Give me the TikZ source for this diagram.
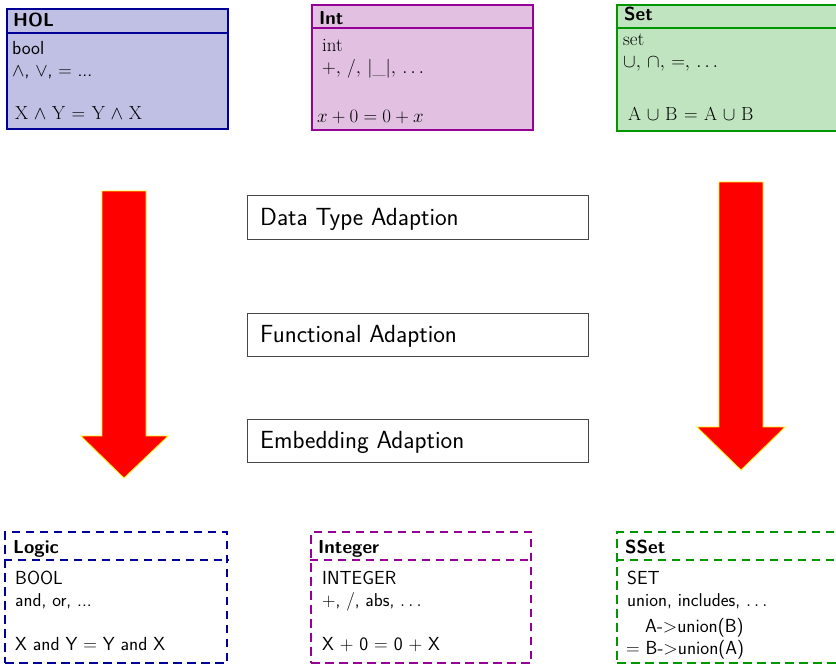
\RequirePackage{fix-cm}
\documentclass[tikz,border=0pt]{standalone}
\usepackage{fontspec}
\usetikzlibrary{positioning}

\definecolor{holc}{RGB}{0,0,150}
\definecolor{holfill}{RGB}{192,192,228}
\definecolor{intc}{RGB}{150,0,150}
\definecolor{intfill}{RGB}{226,192,226}
\definecolor{setc}{RGB}{0,150,0}
\definecolor{setfill}{RGB}{192,228,192}
\definecolor{framegray}{RGB}{70,70,70}

\newcommand{\titlefont}{\fontsize{18.8}{22}\selectfont\sffamily\bfseries}
\newcommand{\bigfont}{\fontsize{18.9}{22}\selectfont}
\newcommand{\smallfont}{\fontsize{18.6}{22}\selectfont}
\newcommand{\stepfont}{\fontsize{24.8}{29}\selectfont\sffamily}
% binary operator with slightly wider spacing
\newcommand{\wop}[1]{\mskip1.3mu#1\mskip1.3mu}

\tikzset{
  solidbox/.style={draw, line width=1.7pt, rectangle, inner sep=0pt},
  dashbox/.style={draw, line width=2.6pt, rectangle, inner sep=0pt, fill=white,
                  dash pattern=on 8.5pt off 5.5pt},
  sepdash/.style={line width=2.6pt, dash pattern=on 8.5pt off 5.5pt},
  stepbox/.style={draw=framegray, line width=0.8pt, rectangle, inner sep=0pt,
                  minimum width=341pt},
  txt/.style={anchor=base west, inner sep=0pt, text=black},
  bigarrow/.style={fill=red, draw=yellow, line width=0.8pt, line join=miter},
}

\begin{document}
\begin{tikzpicture}[x=1pt, y=-1pt]
\useasboundingbox (0,0) rectangle (836,665);

% ---------- source theories ----------
\node[solidbox, draw=holc, fill=holfill, minimum width=221pt, minimum height=120pt] (hol) at (117.5,69) {};
\draw[holc, line width=1.7pt] (hol.west |- 0,33) -- (hol.east |- 0,33);
\node[txt, font=\titlefont] (holt) at (13,26) {HOL};
\node[txt, font=\bigfont\sffamily] (hol1) at (12,54) {bool};
\node[txt, font=\smallfont\sffamily] (hol2) at (12,76) {$\wedge$, $\vee$, $=$ ...};
\node[txt, font=\bigfont] (hol3) at (15,119) {$\mathrm{X \wop\wedge Y \wop= Y \wop\wedge X}$};

\node[solidbox, draw=intc, fill=intfill, minimum width=221pt, minimum height=125pt] (int) at (422.5,67.5) {};
\draw[intc, line width=1.7pt] (int.west |- 0,28) -- (int.east |- 0,28);
\node[txt, font=\titlefont] (intt) at (319,24) {Int};
\node[txt, font=\bigfont] (int1) at (322,51) {int};
\node[txt, font=\bigfont] (int2) at (322,73) {$+,\,/,\,|\_|,\,\ldots$};
\node[txt, font=\bigfont] (int3) at (317,122) {$x+0=0+x$};

\node[solidbox, draw=setc, fill=setfill, minimum width=232pt, minimum height=126pt] (set) at (733,68) {};
\draw[setc, line width=1.7pt] (set.west |- 0,28) -- (set.east |- 0,28);
\node[txt, font=\titlefont] (sett) at (624,20) {Set};
\node[txt, font=\bigfont] (set1) at (623,45) {set};
\node[txt, font=\bigfont] (set2) at (623,67) {$\cup,\,\cap,\,=,\,\ldots$};
\node[txt, font=\bigfont] (set3) at (628,120) {$\mathrm{A \wop\cup B \wop= A \wop\cup B}$};

% ---------- adaption steps ----------
\node[stepbox, minimum height=44pt] (dta) at (417.5,217) {};
\node[txt, font=\stepfont] (dtat) at (260,225) {Data Type Adaption};
\node[stepbox, minimum height=43pt] (fa) at (417.5,334.5) {};
\node[txt, font=\stepfont] (fat) at (260,342) {Functional Adaption};
\node[stepbox, minimum height=43pt] (ea) at (417.5,440.5) {};
\node[txt, font=\stepfont] (eat) at (260,448) {Embedding Adaption};

% ---------- big arrows ----------
\draw[bigarrow] (102,191) -- (146,191) -- (146,436) -- (168,436) -- (124,478)
  -- (81,436) -- (102,436) -- cycle;
\draw[bigarrow] (719,182) -- (763,182) -- (763,427) -- (785,427) -- (741,470)
  -- (697,427) -- (719,427) -- cycle;

% ---------- target theories ----------
\node[dashbox, draw=holc, minimum width=222pt, minimum height=131pt] (logic) at (116,597.5) {};
\draw[holc, sepdash] (logic.west |- 0,560) -- (logic.east |- 0,560);
\node[txt, font=\titlefont] (logict) at (13,553) {Logic};
\node[txt, font=\bigfont\sffamily] (logic1) at (15,584) {BOOL};
\node[txt, font=\smallfont\sffamily] (logic2) at (15,606) {and, or, ...};
\node[txt, font=\bigfont\sffamily] (logic3) at (15,650) {X and Y $=$ Y and X};

\node[dashbox, draw=intc, minimum width=220pt, minimum height=131pt] (integer) at (421,597.5) {};
\draw[intc, sepdash] (integer.west |- 0,560) -- (integer.east |- 0,560);
\node[txt, font=\titlefont] (integert) at (318,553) {Integer};
\node[txt, font=\bigfont\sffamily] (integer1) at (322,584) {INTEGER};
\node[txt, font=\smallfont\sffamily] (integer2) at (322,606) {$+$, $/$, abs, $\ldots$};
\node[txt, font=\bigfont\sffamily] (integer3) at (322,650) {X $+$ 0 $=$ 0 $+$ X};

\node[dashbox, draw=setc, minimum width=232pt, minimum height=131pt] (sset) at (733,597.5) {};
\draw[setc, sepdash] (sset.west |- 0,560) -- (sset.east |- 0,560);
\node[txt, font=\titlefont] (ssett) at (625,553) {SSet};
\node[txt, font=\bigfont\sffamily] (sset1) at (627,584) {SET};
\node[txt, font=\smallfont\sffamily] (sset2) at (627,606) {union, includes, $\ldots$};
\node[txt, font=\bigfont\sffamily] (sset3) at (645,632) {A-$>$union(B)};
\node[txt, font=\bigfont\sffamily] (sset4) at (626,654) {$=$ B-$>$union(A)};
\end{tikzpicture}
\end{document}
